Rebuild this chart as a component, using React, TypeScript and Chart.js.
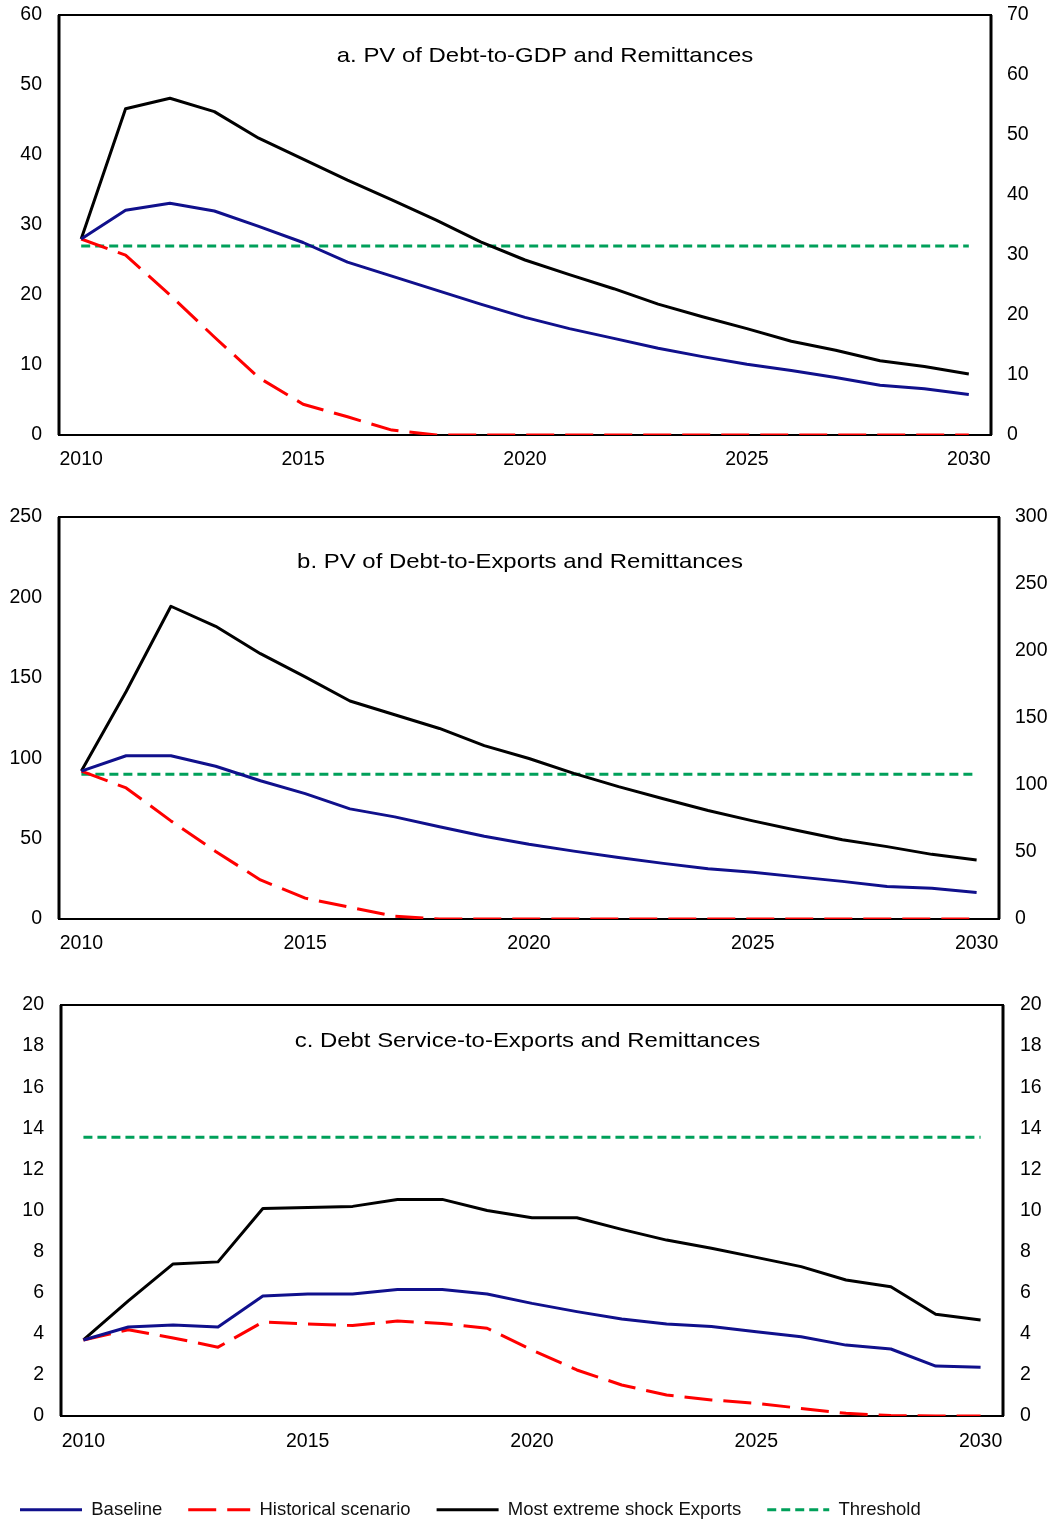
import React, { useEffect, useRef } from "react";
import { Chart, registerables } from "chart.js";

Chart.register(...registerables);

// ---------- DATA ----------
const years = [
  "2010", "2011", "2012", "2013", "2014", "2015", "2016", "2017", "2018", "2019", "2020",
  "2021", "2022", "2023", "2024", "2025", "2026", "2027", "2028", "2029", "2030",
];
const xTickYears = ["2010", "2015", "2020", "2025", "2030"];

const seriesNames = ["Baseline", "Historical scenario", "Most extreme shock Exports", "Threshold"];

// Panel a: PV of Debt-to-GDP and Remittances
const baselineA = [28, 32.1, 33.1, 32.0, 29.8, 27.5, 24.7, 22.7, 20.7, 18.7, 16.8, 15.2, 13.8, 12.4, 11.2, 10.1, 9.2, 8.2, 7.1, 6.6, 5.8];
const historicalA = [28, 25.7, 20.0, 14.0, 8.2, 4.4, 2.6, 0.7, 0, 0, 0, 0, 0, 0, 0, 0, 0, 0, 0, 0, 0];
const shockA = [28, 46.6, 48.1, 46.2, 42.4, 39.4, 36.4, 33.6, 30.7, 27.6, 25.0, 22.9, 20.9, 18.7, 16.9, 15.2, 13.4, 12.1, 10.6, 9.8, 8.7];
const thresholdA = 27;
const leftTicksA = [0, 60, 10];
const rightTicksA = [0, 70, 10];

// Panel b: PV of Debt-to-Exports and Remittances
const baselineB = [92, 101.5, 101.5, 95, 86, 78, 68.5, 63.5, 57.4, 51.5, 46.5, 42.2, 38.2, 34.6, 31.2, 29.0, 26.2, 23.4, 20.2, 19.1, 16.5];
const historicalB = [92, 81.5, 61, 42, 24.3, 13, 7.3, 1.7, 0, 0, 0, 0, 0, 0, 0, 0, 0, 0, 0, 0, 0];
const shockB = [92, 141.5, 194.5, 182, 165, 150.6, 135.6, 127, 118.5, 107.8, 99.8, 90.6, 82.3, 74.8, 67.5, 61, 55, 49.3, 45, 40.2, 36.7];
const thresholdB = 90;
const leftTicksB = [0, 250, 50];
const rightTicksB = [0, 300, 50];

// Panel c: Debt Service-to-Exports and Remittances
const baselineC = [3.7, 4.33, 4.43, 4.33, 5.84, 5.94, 5.94, 6.16, 6.16, 5.94, 5.48, 5.08, 4.72, 4.48, 4.35, 4.1, 3.86, 3.45, 3.26, 2.43, 2.37];
const historicalC = [3.7, 4.2, 3.8, 3.35, 4.57, 4.48, 4.4, 4.62, 4.5, 4.27, 3.21, 2.24, 1.51, 1.02, 0.78, 0.62, 0.37, 0.13, 0.02, 0, 0];
const shockC = [3.7, 5.6, 7.4, 7.5, 10.1, 10.15, 10.2, 10.54, 10.54, 10.0, 9.65, 9.65, 9.08, 8.56, 8.16, 7.72, 7.27, 6.62, 6.29, 4.95, 4.67];
const thresholdC = 13.56;
const leftTicksC = [0, 20, 2];
const rightTicksC = [0, 20, 2];

const titles = [
  "a. PV of Debt-to-GDP and Remittances",
  "b. PV of Debt-to-Exports and Remittances",
  "c. Debt Service-to-Exports and Remittances",
];

// ---------- STYLE ----------
const FONT = "'Liberation Sans', Arial, Helvetica, sans-serif";
const COLORS = { baseline: "#10108c", historical: "#ff0000", shock: "#000000", threshold: "#00a05a" };

Chart.defaults.font.family = FONT;
Chart.defaults.color = "#000";

const framePlugin = {
  id: "frame",
  beforeDatasetsDraw(chart: any) {
    const { ctx, chartArea: a } = chart;
    ctx.save();
    ctx.strokeStyle = "#000";
    ctx.lineWidth = 2;
    ctx.strokeRect(a.left, a.top, a.right - a.left, a.bottom - a.top);
    ctx.lineWidth = 3;
    ctx.beginPath();
    ctx.moveTo(a.left, a.top);
    ctx.lineTo(a.left, a.bottom);
    ctx.moveTo(a.right, a.top);
    ctx.lineTo(a.right, a.bottom);
    ctx.stroke();
    ctx.restore();
  },
};

const titlePlugin = {
  id: "panelTitle",
  afterDraw(chart: any, _args: any, opts: any) {
    if (!opts || !opts.text) return;
    const { ctx } = chart;
    ctx.save();
    ctx.font = `${opts.size}px ${FONT}`;
    ctx.fillStyle = "#000";
    ctx.textAlign = "center";
    ctx.textBaseline = "alphabetic";
    ctx.translate(opts.x, opts.y);
    ctx.scale(opts.sx, 1);
    ctx.fillText(opts.text, 0, 0);
    ctx.restore();
  },
};

type PanelSpec = {
  left: number;
  top: number;
  w: number;
  h: number;
  padTop: number;
  leftW: number;
  rightW: number;
  xH: number;
  xPad: number;
  lPad: number;
  rPad: number;
  baseline: number[];
  historical: number[];
  shock: number[];
  threshold: number;
  leftTicks: number[];
  rightTicks: number[];
  title: string;
  titleX: number;
  titleY: number;
  legend: boolean;
};

function Panel({ spec }: { spec: PanelSpec }) {
  const ref = useRef<HTMLCanvasElement | null>(null);
  useEffect(() => {
    if (!ref.current) return;
    const lineBase = { pointRadius: 0, pointHoverRadius: 0, tension: 0, fill: false, yAxisID: "y", borderJoinStyle: "round" as const };
    const chart = new Chart(ref.current, {
      type: "line",
      data: {
        labels: years,
        datasets: [
          { ...lineBase, label: seriesNames[0], data: spec.baseline, borderColor: COLORS.baseline, backgroundColor: COLORS.baseline, borderWidth: 3 },
          { ...lineBase, label: seriesNames[1], data: spec.historical, borderColor: COLORS.historical, backgroundColor: COLORS.historical, borderWidth: 3, borderDash: [28, 11] },
          { ...lineBase, label: seriesNames[2], data: spec.shock, borderColor: COLORS.shock, backgroundColor: COLORS.shock, borderWidth: 3 },
          {
            ...lineBase,
            label: seriesNames[3],
            data: [
              { x: years[0], y: spec.threshold },
              { x: years[years.length - 1], y: spec.threshold },
            ] as any,
            borderColor: COLORS.threshold,
            backgroundColor: COLORS.threshold,
            borderWidth: 3,
            borderDash: [9, 5],
          },
        ],
      },
      options: {
        animation: false,
        responsive: false,
        maintainAspectRatio: false,
        events: [],
        layout: { padding: { top: spec.padTop, left: 0, right: 0, bottom: 0 } },
        scales: {
          x: {
            type: "category",
            offset: true,
            grid: { display: false },
            border: { display: false },
            ticks: {
              autoSkip: false,
              maxRotation: 0,
              minRotation: 0,
              padding: spec.xPad,
              color: "#000",
              font: { size: 19.5 },
              callback: (_v: any, i: number) => (xTickYears.includes(years[i]) ? years[i] : ""),
            },
            afterFit: (s: any) => {
              s.height = spec.xH;
            },
          },
          y: {
            position: "left",
            min: spec.leftTicks[0],
            max: spec.leftTicks[1],
            grid: { display: false },
            border: { display: false },
            ticks: { stepSize: spec.leftTicks[2], padding: spec.lPad, color: "#000", font: { size: 19.5 } },
            afterFit: (s: any) => {
              s.width = spec.leftW;
            },
          },
          y1: {
            position: "right",
            min: spec.rightTicks[0],
            max: spec.rightTicks[1],
            grid: { display: false },
            border: { display: false },
            ticks: { stepSize: spec.rightTicks[2], padding: spec.rPad, color: "#000", font: { size: 19.5 } },
            afterFit: (s: any) => {
              s.width = spec.rightW;
            },
          },
        },
        plugins: {
          tooltip: { enabled: false },
          title: { display: false },
          legend: {
            display: spec.legend,
            position: "bottom",
            align: "start",
            labels: {
              usePointStyle: true,
              pointStyle: "line",
              pointStyleWidth: 62,
              boxHeight: 18,
              padding: 26,
              color: "#111",
              font: { size: 18.5 },
              generateLabels: (ch: any) =>
                ch.data.datasets.map((ds: any, i: number) => ({
                  text: ds.label,
                  fillStyle: ds.borderColor,
                  strokeStyle: ds.borderColor,
                  lineWidth: ds.borderWidth,
                  lineDash: ds.borderDash || [],
                  lineCap: "butt",
                  pointStyle: "line",
                  fontColor: "#111",
                  hidden: false,
                  datasetIndex: i,
                })),
            },
          },
          panelTitle: { text: spec.title, x: spec.titleX, y: spec.titleY, size: 21, sx: 1.14 },
        } as any,
      },
      plugins: [framePlugin, titlePlugin],
    } as any);
    return () => chart.destroy();
  }, [spec]);
  return (
    <canvas
      ref={ref}
      width={spec.w}
      height={spec.h}
      style={{ position: "absolute", left: spec.left, top: spec.top, width: spec.w, height: spec.h, display: "block" }}
    />
  );
}

const panelA: PanelSpec = {
  left: 0, top: -10, w: 1055, h: 490, padTop: 25, leftW: 59, rightW: 64, xH: 45, xPad: 5, lPad: 9, rPad: 8,
  baseline: baselineA, historical: historicalA, shock: shockA, threshold: thresholdA,
  leftTicks: leftTicksA, rightTicks: rightTicksA, title: titles[0], titleX: 545, titleY: 71.5, legend: false,
};
const panelB: PanelSpec = {
  left: 0, top: 480, w: 1055, h: 480, padTop: 37, leftW: 59, rightW: 56, xH: 41, xPad: 5, lPad: 9, rPad: 8,
  baseline: baselineB, historical: historicalB, shock: shockB, threshold: thresholdB,
  leftTicks: leftTicksB, rightTicks: rightTicksB, title: titles[1], titleX: 520, titleY: 88, legend: false,
};
const panelC: PanelSpec = {
  left: -6, top: 960, w: 1061, h: 569, padTop: 45, leftW: 67, rightW: 52, xH: 58.5, xPad: 6, lPad: 9, rPad: 9,
  baseline: baselineC, historical: historicalC, shock: shockC, threshold: thresholdC,
  leftTicks: leftTicksC, rightTicks: rightTicksC, title: titles[2], titleX: 533.5, titleY: 86.7, legend: true,
};

export default function App() {
  return (
    <div style={{ position: "absolute", left: 0, top: 0, width: 1055, height: 1524, overflow: "hidden", background: "#fff" }}>
      <Panel spec={panelA} />
      <Panel spec={panelB} />
      <Panel spec={panelC} />
    </div>
  );
}
